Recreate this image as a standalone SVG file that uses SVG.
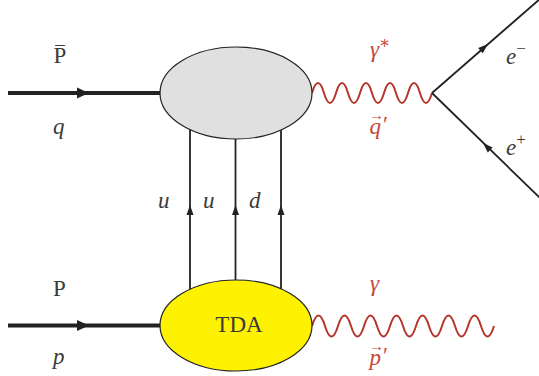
<svg xmlns="http://www.w3.org/2000/svg" width="539" height="376" viewBox="0 0 539 376">
<style>
.thick{stroke:#222;stroke-width:4;fill:none}
.line{stroke:#222;stroke-width:1.8;fill:none}
.wave{stroke:#b5352a;stroke-width:2;fill:none}
.t{font-size:23px;fill:#3a3a3a}
.it{font-style:italic}
.red{fill:#c4473a}
.ah{fill:#222}
</style>
<defs>
<path id="bigArrow" d="M0,0 L-12,-5.5 L-12,5.5 Z"/>
<path id="smallArrow" d="M0,0 L-10,-3.5 L-10,3.5 Z"/>
</defs>
<g id="connectors">
<line class="thick" x1="8" y1="93" x2="162" y2="93"/>
<use href="#bigArrow" class="ah" transform="translate(89,93)"/>
<line class="thick" x1="8" y1="325.5" x2="162" y2="325.5"/>
<use href="#bigArrow" class="ah" transform="translate(89,325.5)"/>
<line class="line" x1="190" y1="120" x2="190" y2="300"/>
<line class="line" x1="235.5" y1="120" x2="235.5" y2="300"/>
<line class="line" x1="281" y1="120" x2="281" y2="300"/>
<use href="#smallArrow" class="ah" transform="translate(190,205) rotate(-90)"/>
<use href="#smallArrow" class="ah" transform="translate(235.5,205) rotate(-90)"/>
<use href="#smallArrow" class="ah" transform="translate(281,205) rotate(-90)"/>
<path class="wave" d="M312,93 c4,-13.3 8,-13.3 12,0 c4,13.3 8,13.3 12,0 c4,-13.3 8,-13.3 12,0 c4,13.3 8,13.3 12,0 c4,-13.3 8,-13.3 12,0 c4,13.3 8,13.3 12,0 c4,-13.3 8,-13.3 12,0 c4,13.3 8,13.3 12,0 c4,-13.3 8,-13.3 12,0 c4,13.3 8,13.3 12,0"/>
<path class="wave" d="M312,326 c4.33,-14 8.67,-14 13,0 c4.33,14 8.67,14 13,0 c4.33,-14 8.67,-14 13,0 c4.33,14 8.67,14 13,0 c4.33,-14 8.67,-14 13,0 c4.33,14 8.67,14 13,0 c4.33,-14 8.67,-14 13,0 c4.33,14 8.67,14 13,0 c4.33,-14 8.67,-14 13,0 c4.33,14 8.67,14 13,0 c4.33,-14 8.67,-14 13,0 c4.33,14 8.67,14 13,0 c4.33,-14 8.67,-14 13,0 c4.33,14 8.67,14 13,0"/>
<line class="line" x1="432" y1="93" x2="541" y2="-2"/>
<line class="line" x1="432" y1="93" x2="541" y2="199"/>
<use href="#smallArrow" class="ah" transform="translate(488,44) rotate(-41)"/>
<use href="#smallArrow" class="ah" transform="translate(483,143) rotate(-136)"/>
</g>
<g id="blob-top">
<ellipse cx="236" cy="93" rx="76" ry="46" fill="#e0e0e0" stroke="#222" stroke-width="1.2"/>
</g>
<g id="blob-tda" font-family="Liberation Serif, DejaVu Serif, serif">
<ellipse cx="236" cy="325.5" rx="76" ry="45.5" fill="#fff200" stroke="#222" stroke-width="1.2"/>
<text class="t" x="239" y="332" text-anchor="middle" font-size="25">TDA</text>
</g>
<g id="labels" font-family="Liberation Serif, DejaVu Serif, serif">
<text class="t" x="60" y="63" text-anchor="middle">P<tspan x="60" y="59" font-size="19">¯</tspan></text>
<text class="t it" x="53" y="134">q</text>
<text class="t" x="53" y="296">P</text>
<text class="t it" x="53" y="364">p</text>
<text class="t it" x="158" y="208">u</text>
<text class="t it" x="203" y="208">u</text>
<text class="t it" x="249" y="208">d</text>
<text class="t it red" x="370" y="57">γ<tspan font-style="normal" font-size="17" dy="-9">∗</tspan></text>
<text class="t it red" x="369" y="134">q<tspan font-style="normal" font-size="15" dx="-12" dy="-14">→</tspan><tspan font-style="normal" dx="-1" dy="12">′</tspan></text>
<text class="t it red" x="370" y="291">γ</text>
<text class="t it red" x="369" y="365">p<tspan font-style="normal" font-size="15" dx="-12" dy="-14">→</tspan><tspan font-style="normal" dx="-1" dy="12">′</tspan></text>
<text class="t it" x="506" y="64">e<tspan font-style="normal" font-size="17" dy="-10">−</tspan></text>
<text class="t it" x="506" y="155">e<tspan font-style="normal" font-size="17" dy="-10">+</tspan></text>
</g>
</svg>
